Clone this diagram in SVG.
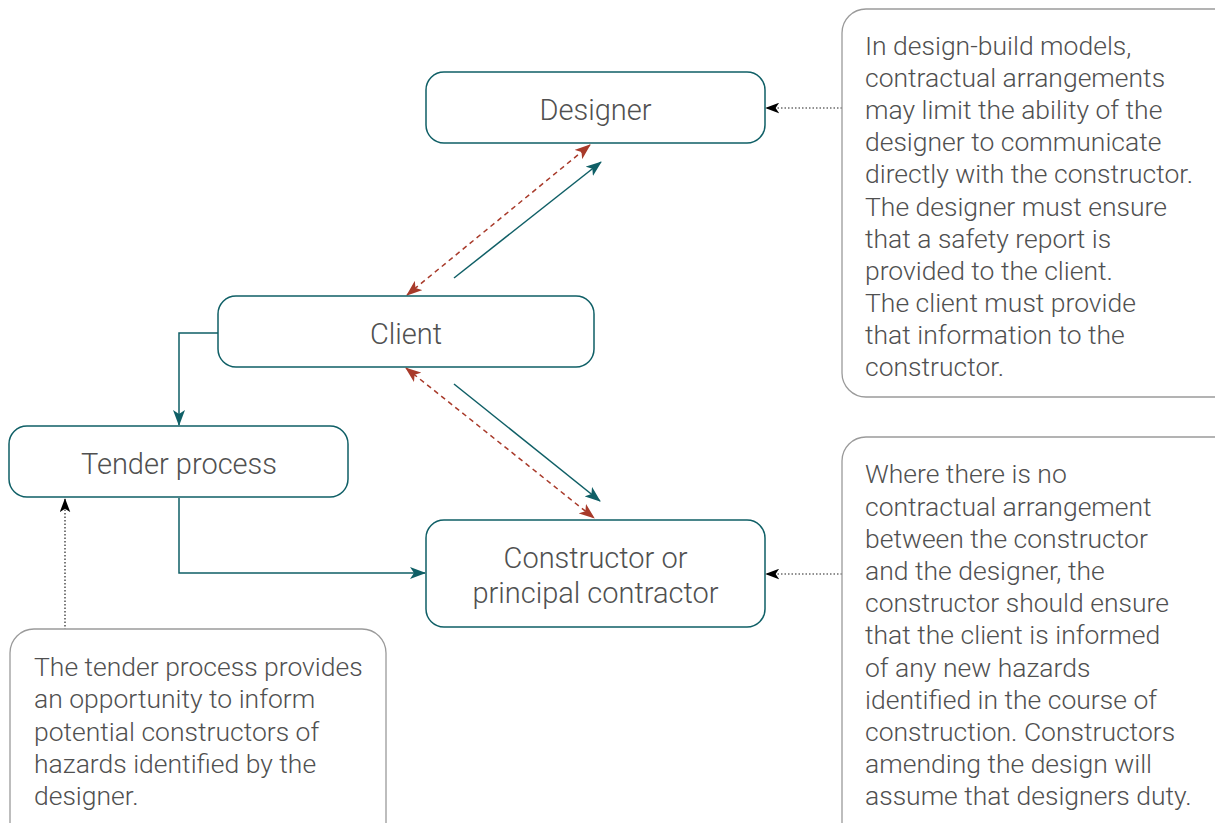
<svg xmlns="http://www.w3.org/2000/svg" width="1215" height="823" viewBox="0 0 1215 823">
<style>
.node{fill:#fff;stroke:#0f5f66;stroke-width:1.5}
.note{fill:#fff;stroke:#9a9a9a;stroke-width:1.3}
.t{font-family:"Roboto Light",Roboto,"Liberation Sans",sans-serif;font-weight:300;font-size:26.5px;fill:#505050}
.n{font-size:29px}
.c{text-anchor:middle}
.teal{fill:none;stroke:#0f5f66;stroke-width:1.5}
.red{fill:none;stroke:#a83a2a;stroke-width:1.5;stroke-dasharray:5 4}
.dot{fill:none;stroke:#222;stroke-width:1.2;stroke-dasharray:1.5 2}
</style>
<defs>
<marker id="aT" viewBox="0 0 16 12" refX="15" refY="6" markerWidth="16" markerHeight="12" markerUnits="userSpaceOnUse" orient="auto-start-reverse"><path d="M0,0 L16,6 L0,12 L4,6 z" fill="#0f5f66"/></marker>
<marker id="aR" viewBox="0 0 16 12" refX="15" refY="6" markerWidth="16" markerHeight="12" markerUnits="userSpaceOnUse" orient="auto-start-reverse"><path d="M0,0 L16,6 L0,12 L4,6 z" fill="#a83a2a"/></marker>
<marker id="aK" viewBox="0 0 16 12" refX="15" refY="6" markerWidth="14" markerHeight="11" markerUnits="userSpaceOnUse" orient="auto-start-reverse"><path d="M0,0 L16,6 L0,12 L4,6 z" fill="#000"/></marker>
</defs>
<rect width="1215" height="823" fill="#fff"/>
<g id="connectors">
<path class="teal" d="M218,333 H179 V425" marker-end="url(#aT)"/>
<path class="teal" d="M179,498 V573 H425" marker-end="url(#aT)"/>
<path class="teal" d="M454,278 L601,162" marker-end="url(#aT)"/>
<path class="teal" d="M454,384 L600,501" marker-end="url(#aT)"/>
<path class="red" d="M407,295 L590,145" marker-start="url(#aR)" marker-end="url(#aR)"/>
<path class="red" d="M406,368 L594,518" marker-start="url(#aR)" marker-end="url(#aR)"/>
<path class="dot" d="M842,108 H766" marker-end="url(#aK)"/>
<path class="dot" d="M842,574 H766" marker-end="url(#aK)"/>
<path class="dot" d="M65,630 V499" marker-end="url(#aK)"/>
</g>
<g id="designer">
<rect class="node" x="426" y="72" width="339" height="71" rx="18"/>
<text class="t n c" x="595.5" y="120">Designer</text>
</g>
<g id="client">
<rect class="node" x="218" y="296" width="376" height="71" rx="18"/>
<text class="t n c" x="406" y="344">Client</text>
</g>
<g id="tender">
<rect class="node" x="9" y="426" width="339" height="71" rx="18"/>
<text class="t n c" x="179" y="474">Tender process</text>
</g>
<g id="constructor">
<rect class="node" x="426" y="520" width="339" height="107" rx="18"/>
<text class="t n c" x="595.5" y="568">Constructor or</text>
<text class="t n c" x="595.5" y="603">principal contractor</text>
</g>
<g id="note-design-build">
<rect class="note" x="842" y="9" width="400" height="388" rx="24"/>
<text class="t" x="865" y="55">In design-build models,</text>
<text class="t" x="865" y="87">contractual arrangements</text>
<text class="t" x="865" y="119">may limit the ability of the</text>
<text class="t" x="865" y="151">designer to communicate</text>
<text class="t" x="865" y="183">directly with the constructor.</text>
<text class="t" x="865" y="216">The designer must ensure</text>
<text class="t" x="865" y="248">that a safety report is</text>
<text class="t" x="865" y="280">provided to the client.</text>
<text class="t" x="865" y="312">The client must provide</text>
<text class="t" x="865" y="344">that information to the</text>
<text class="t" x="865" y="376">constructor.</text>
</g>
<g id="note-no-contract">
<rect class="note" x="842" y="437" width="400" height="420" rx="24"/>
<text class="t" x="865" y="483">Where there is no</text>
<text class="t" x="865" y="516">contractual arrangement</text>
<text class="t" x="865" y="548">between the constructor</text>
<text class="t" x="865" y="580">and the designer, the</text>
<text class="t" x="865" y="612">constructor should ensure</text>
<text class="t" x="865" y="644">that the client is informed</text>
<text class="t" x="865" y="677">of any new hazards</text>
<text class="t" x="865" y="709">identified in the course of</text>
<text class="t" x="865" y="741">construction. Constructors</text>
<text class="t" x="865" y="773">amending the design will</text>
<text class="t" x="865" y="805">assume that designers duty.</text>
</g>
<g id="note-tender">
<rect class="note" x="10" y="629" width="376" height="230" rx="24"/>
<text class="t" x="34" y="676">The tender process provides</text>
<text class="t" x="34" y="708">an opportunity to inform</text>
<text class="t" x="34" y="741">potential constructors of</text>
<text class="t" x="34" y="773">hazards identified by the</text>
<text class="t" x="34" y="805">designer.</text>
</g>
</svg>
